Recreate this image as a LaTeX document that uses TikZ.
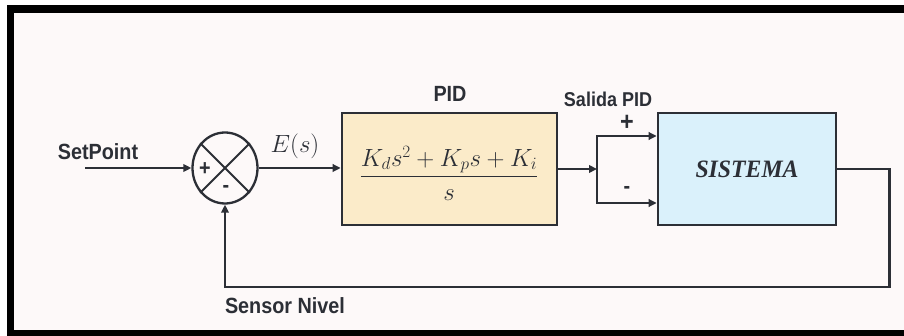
\documentclass[tikz,border=0pt]{standalone}
\usepackage{amsmath}
\usepackage{fontspec}
\setmainfont{Liberation Sans}
\newfontfamily\labfont[FakeStretch=0.9]{Liberation Sans}
\newfontfamily\sysfont[FakeStretch=0.95]{Liberation Serif}
\usetikzlibrary{arrows.meta,shapes.geometric}
\definecolor{bgc}{HTML}{FDF9F9}
\definecolor{ln}{HTML}{2C2F36}
\definecolor{pidfill}{HTML}{FBEBC9}
\definecolor{sysfill}{HTML}{DAF1FB}
\begin{document}
\begin{tikzpicture}[x=1pt,y=-1pt,
  wire/.style={draw=ln,line width=2.7pt},
  arr/.style={wire,-{Triangle[length=8pt,width=7.5pt]}},
  blk/.style={draw=ln,line width=2.7pt,rectangle,inner sep=0pt},
  lab/.style={font=\labfont\bfseries\fontsize{22}{24}\selectfont,text=ln,inner sep=0pt},
  sgn/.style={font=\labfont\bfseries\fontsize{22}{24}\selectfont,text=ln,inner sep=0pt},
  mth/.style={font=\fontsize{23}{27}\selectfont,text=ln,inner sep=0pt},
  ]
\useasboundingbox (0,0) rectangle (904,336);
\fill[white] (0,0) rectangle (904,336);
\fill[bgc] (14,13) rectangle (904,330);
\fill[black] (7,5) rectangle (904,13);
\fill[black] (7,5) rectangle (14,336);
\fill[black] (7,330) rectangle (904,336);

% summing junction
\node[ellipse, draw=ln, line width=2.3pt, minimum width=65pt, minimum height=71pt, inner sep=0pt] (sum) at (225,168) {};
\draw[ln, line width=2.1pt] (sum.45) -- (sum.225) (sum.135) -- (sum.315);
\node[sgn] (plusA) at (205,169) {+};
\node[sgn] (minusA) at (226,189) {-};

% blocks
\node[blk, fill=pidfill, minimum width=215pt, minimum height=112pt] (pid) at (449.5,169) {};
\node[mth] (tf) at (449,173) {$\dfrac{K_ds^2+K_ps+K_i}{s}$};
\node[blk, fill=sysfill, minimum width=178pt, minimum height=112pt] (sis) at (747,169)
  {\sysfont\bfseries\itshape\fontsize{25}{28}\selectfont\color{ln}SISTEMA};

% labels
\node[lab] (spl) at (98,152) {SetPoint};
\node[mth] (es) at (295,146) {$E(s)$};
\node[lab] (pidl) at (450,94) {PID};
\node[lab, font=\labfont\bfseries\fontsize{20}{22}\selectfont] (sal) at (608,99) {Salida PID};
\node[sgn, font=\labfont\bfseries\fontsize{26}{26}\selectfont] (plusB) at (627,123) {+};
\node[sgn] (minusB) at (627,190) {-};
\node[lab] (sen) at (285,306) {Sensor Nivel};

% connectors
\coordinate (sp) at (85,168);
\coordinate (split) at (597,169);
\coordinate (st) at (597,136);
\coordinate (sb) at (597,203);
\coordinate (fb) at (225,287);
\draw[arr] (sp) -- (sum.west);
\draw[arr] (sum.east) -- (pid.west |- sum.east);
\draw[arr] (pid.east) -- (split);
\draw[wire, line cap=rect] (st) -- (sb);
\draw[arr] (st) -- (st -| sis.west);
\draw[arr] (sb) -- (sb -| sis.west);
\draw[arr, line join=miter] (sis.east) -- ++(52,0) |- (fb) -- (sum.south);
\end{tikzpicture}
\end{document}
